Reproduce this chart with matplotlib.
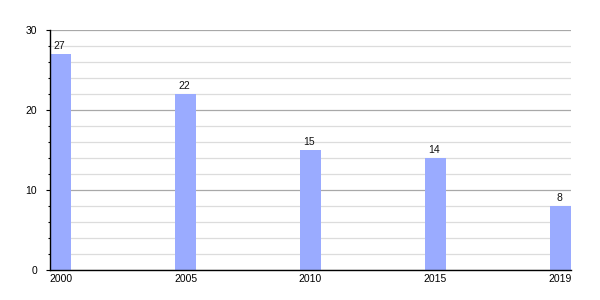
import matplotlib
matplotlib.use("Agg")
import matplotlib.pyplot as plt
from matplotlib.ticker import MultipleLocator

years = ["2000", "2005", "2010", "2015", "2019"]
values = [27, 22, 15, 14, 8]

plt.rcParams['font.family'] = ['Liberation Sans', 'DejaVu Sans']

fig = plt.figure(figsize=(6, 3), dpi=100)
ax = fig.add_axes([50/600, 0.1, 521/600, 0.8])

pos = list(range(len(years)))
ax.bar(pos, values, width=0.168, color='#9aabff', zorder=3)
for x, v in zip(pos, values):
    ax.text(x - 0.01, v + 0.4, str(v), ha='center', va='bottom', fontsize=7.5, color='#111111', zorder=4)

ax.set_xlim(-0.084, 4.084)
ax.set_ylim(0, 30)
ax.set_xticks(pos)
ax.set_xticklabels(years)
ax.yaxis.set_major_locator(MultipleLocator(10))
ax.yaxis.set_minor_locator(MultipleLocator(2))

ax.grid(axis='y', which='major', color='#a8a8a8', linewidth=0.9, zorder=0)
ax.grid(axis='y', which='minor', color='#dcdcdc', linewidth=0.9, zorder=0)
ax.set_axisbelow(True)

for s in ['top', 'right']:
    ax.spines[s].set_visible(False)
for s in ['left', 'bottom']:
    ax.spines[s].set_color('black')
    ax.spines[s].set_linewidth(1.0)
    ax.spines[s].set_zorder(5)

ax.tick_params(axis='x', length=0, pad=3, labelsize=7.5)
ax.tick_params(axis='y', which='major', length=3.2, width=0.8, pad=6, labelsize=7.5)
ax.tick_params(axis='y', which='minor', length=1.6, width=0.8)

fig.savefig("out.png", dpi=100)
